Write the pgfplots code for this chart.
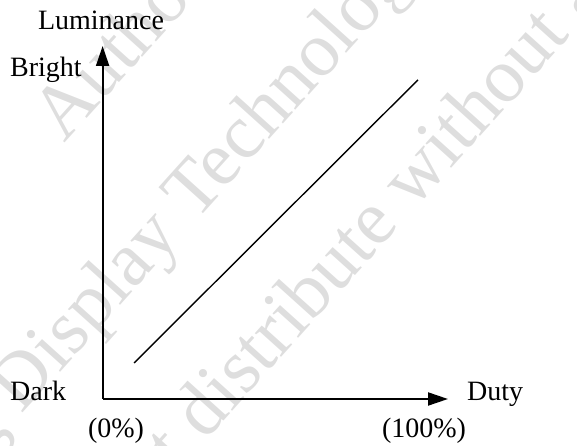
\documentclass[border=0pt]{standalone}
\usepackage{pgfplots}
\pgfplotsset{compat=1.18}
\usepackage{fontspec}
\setmainfont{Liberation Serif}
\usetikzlibrary{arrows.meta}
\begin{document}
\begin{tikzpicture}[x=1pt,y=1pt]
\path[use as bounding box] (0,0) rectangle (577,446);
% watermark
\begin{scope}[every node/.style={text=black!13,font=\fontsize{77}{80}\selectfont,inner sep=0pt}]
\node[rotate=48,anchor=base west] at (64,302) {Authorized};
\node[rotate=48,anchor=base west] at (-57,-56) {ing Display Technology};
\node[rotate=48,anchor=base west] at (127,-83) {not distribute without a};
\end{scope}
\begin{axis}[
  at={(102.6pt,47pt)}, anchor=origin,
  scale only axis, width=345.4pt, height=353pt,
  xmin=0, xmax=100, ymin=0, ymax=100,
  hide axis, clip=false]
\draw[line width=2pt,-{Triangle[length=20pt,width=13pt]}] (axis cs:0,0) -- (axis cs:100,0);
\draw[line width=2pt,-{Triangle[length=20pt,width=13pt]}] (axis cs:0,0) -- (axis cs:0,100);
\addplot[black, line width=1.4pt] coordinates {(9.1,10.2) (91.3,90.4)};
\end{axis}
\begin{scope}[every node/.style={font=\fontsize{28}{31}\selectfont,inner sep=0pt}]
\node[anchor=base] at (101,416.5) {Luminance};
\node[anchor=base west] at (10,369) {Bright};
\node[anchor=base west] at (10,45) {Dark};
\node[anchor=base west] at (467,45) {Duty};
\node[anchor=base] at (116,8) {(0\%)};
\node[anchor=base] at (424,8) {(100\%)};
\end{scope}
\end{tikzpicture}
\end{document}
